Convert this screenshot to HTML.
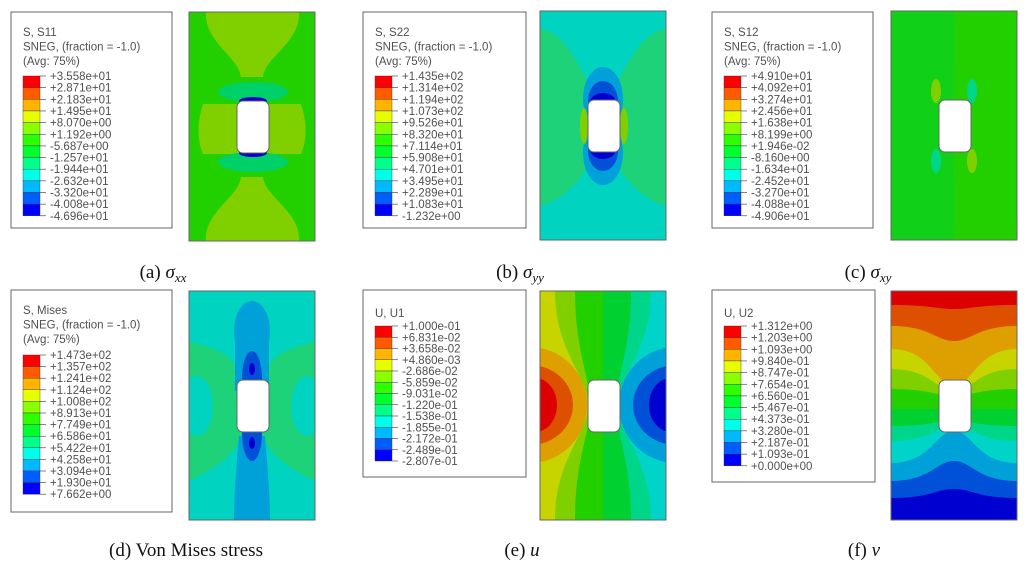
<!DOCTYPE html>
<html><head><meta charset="utf-8"><style>
html,body{margin:0;padding:0;background:#fff;}
svg{display:block;}
.lg{font-family:"Liberation Sans",sans-serif;font-size:11.5px;fill:#505050;}
.cap{font-family:"Liberation Serif",serif;font-size:19px;fill:#111;}
</style></head><body>
<svg id="s" width="1033" height="580" xmlns="http://www.w3.org/2000/svg"></svg>
<script>
const S=document.getElementById('s');let h='';
const LC=['#ff0000','#ff5a00','#ffb400','#e6ff00','#8bff00','#2eff00','#00ff2e','#00ff8b','#00ffe8','#00b9ff','#005dff','#0000ff'];
const R='#dd0000',RO='#dd5000',O='#dda000',Y='#c8d400',YG='#80d000',G='#22d000',G2='#00d030',GC='#1ed27a',C='#00d4c0',LB='#00a0d8',B='#0050d8',DB='#0000d0';
function legend(x,y,w,hh,titles,labels,top,step,ty){
 h+=`<rect x="${x}" y="${y}" width="${w}" height="${hh}" fill="#fff" stroke="#666" stroke-width="1"/>`;
 titles.forEach((t,i)=>h+=`<text class="lg" x="${x+12}" y="${y+(ty||24)+i*14.5}">${t}</text>`);
 for(let i=0;i<12;i++)h+=`<rect x="${x+12}" y="${top+i*step}" width="17" height="${step}" fill="${LC[i]}" stroke="#333" stroke-width="0.4"/>`;
 labels.forEach((l,i)=>{let yy=top+i*step;h+=`<line x1="${x+29}" x2="${x+35}" y1="${yy}" y2="${yy}" stroke="#333" stroke-width="0.6"/><text class="lg" x="${x+39}" y="${yy+4}">${l}</text>`;});
}
function plot(x,y,inner){
 h+=`<g transform="translate(${x},${y})"><clipPath id="c${x}${y}"><rect width="126" height="229"/></clipPath><g clip-path="url(#c${x}${y})">${inner}</g><rect x="48" y="89" width="32" height="52" rx="6" fill="#fff" stroke="#666" stroke-width="1"/><rect width="126" height="229" fill="none" stroke="#666" stroke-width="1"/></g>`;
}
function band(e,c,col){return `<path d="M0 ${e} C40 ${e},45 ${c},63 ${c} C81 ${c},86 ${e},126 ${e} L126 230 L0 230Z" fill="${col}"/>`;}
function vl(a,b,col){return `<path d="M0 0 L${a} 0 C${a} 60,${b} 85,${b} 114 C${b} 143,${a} 168,${a} 229 L0 229Z" fill="${col}"/>`;}
function vr(a,b,col){a=126-a;b=126-b;return `<path d="M126 0 L${a} 0 C${a} 60,${b} 85,${b} 114 C${b} 143,${a} 168,${a} 229 L126 229Z" fill="${col}"/>`;}
const A=['S, S11','SNEG, (fraction = -1.0)','(Avg: 75%)'];
legend(11,12,161,216,A,['+3.558e+01','+2.871e+01','+2.183e+01','+1.495e+01','+8.070e+00','+1.192e+00','-5.687e+00','-1.257e+01','-1.944e+01','-2.632e+01','-3.320e+01','-4.008e+01','-4.696e+01'],76,11.65);
legend(363,12,163,216,['S, S22','SNEG, (fraction = -1.0)','(Avg: 75%)'],['+1.435e+02','+1.314e+02','+1.194e+02','+1.073e+02','+9.526e+01','+8.320e+01','+7.114e+01','+5.908e+01','+4.701e+01','+3.495e+01','+2.289e+01','+1.083e+01','-1.232e+00'],76,11.65);
legend(712,12,161,216,['S, S12','SNEG, (fraction = -1.0)','(Avg: 75%)'],['+4.910e+01','+4.092e+01','+3.274e+01','+2.456e+01','+1.638e+01','+8.199e+00','+1.946e-02','-8.160e+00','-1.634e+01','-2.452e+01','-3.270e+01','-4.088e+01','-4.906e+01'],76,11.65);
legend(11,290,161,222,['S, Mises','SNEG, (fraction = -1.0)','(Avg: 75%)'],['+1.473e+02','+1.357e+02','+1.241e+02','+1.124e+02','+1.008e+02','+8.913e+01','+7.749e+01','+6.586e+01','+5.422e+01','+4.258e+01','+3.094e+01','+1.930e+01','+7.662e+00'],355,11.6);
legend(363,290,163,187,['U, U1'],['+1.000e-01','+6.831e-02','+3.658e-02','+4.860e-03','-2.686e-02','-5.859e-02','-9.031e-02','-1.220e-01','-1.538e-01','-1.855e-01','-2.172e-01','-2.489e-01','-2.807e-01'],326,11.25,27);
legend(712,290,163,192,['U, U2'],['+1.312e+00','+1.203e+00','+1.093e+00','+9.840e-01','+8.747e-01','+7.654e-01','+6.560e-01','+5.467e-01','+4.373e-01','+3.280e-01','+2.187e-01','+1.093e-01','+0.000e+00'],326,11.65,27);
// a
plot(189,12,`<rect width="126" height="229" fill="${G}"/>
<path d="M17 0 C15 30,50 45,52 65 L74 65 C76 45,112 30,110 0Z" fill="${YG}"/>
<path d="M17 229 C15 200,50 185,52 165 L74 165 C76 185,112 200,110 229Z" fill="${YG}"/>
<path d="M14 92 L112 92 C118 110,118 128,112 142 L14 142 C8 128,8 110,14 92Z" fill="${YG}"/>
<ellipse cx="64" cy="80" rx="35" ry="10" fill="#00d068"/><ellipse cx="64" cy="150" rx="35" ry="10" fill="#00d068"/>
<ellipse cx="64" cy="89" rx="14" ry="4" fill="${DB}"/><ellipse cx="64" cy="141" rx="14" ry="4" fill="${DB}"/>`);
// b
plot(540,11,`<rect width="126" height="229" fill="${GC}"/>
<path d="M0 0 H126 V18 C100 20,85 60,72 80 L54 80 C40 60,26 20,0 18Z" fill="${C}"/>
<path d="M0 229 H126 V195 C105 190,85 170,75 150 L51 150 C41 170,21 190,0 195Z" fill="${C}"/>
<path d="M40 229 C40 200,50 175,55 150 L71 150 C76 175,86 200,86 229Z" fill="${C}"/>
<ellipse cx="63" cy="88" rx="20" ry="32" fill="${LB}"/><ellipse cx="63" cy="142" rx="20" ry="32" fill="${LB}"/>
<ellipse cx="63" cy="90" rx="15" ry="20" fill="${B}"/><ellipse cx="63" cy="140" rx="15" ry="20" fill="${B}"/>
<ellipse cx="63" cy="92" rx="13" ry="10" fill="${DB}"/><ellipse cx="63" cy="138" rx="13" ry="10" fill="${DB}"/>
<ellipse cx="44" cy="115" rx="4" ry="18" fill="${YG}"/><ellipse cx="84" cy="115" rx="4" ry="18" fill="${YG}"/>`);
// c
plot(891,11,`<rect width="126" height="229" fill="${G}"/><rect width="63" height="229" fill="#10d018"/>
<ellipse cx="45" cy="80" rx="5" ry="12" fill="${YG}"/><ellipse cx="81" cy="80" rx="5" ry="12" fill="#00d68a"/>
<ellipse cx="45" cy="150" rx="5" ry="12" fill="#00d68a"/><ellipse cx="81" cy="150" rx="5" ry="12" fill="${YG}"/>`);
// d
plot(189,291,`<rect width="126" height="229" fill="${C}"/>
<path d="M0 50 C30 60,45 60,55 95 L55 140 C45 165,30 175,0 190Z" fill="${GC}"/>
<path d="M126 50 C96 60,81 60,71 95 L71 140 C81 165,96 175,126 190Z" fill="${GC}"/>
<ellipse cx="8" cy="115" rx="16" ry="30" fill="${C}"/><ellipse cx="118" cy="115" rx="16" ry="30" fill="${C}"/>
<path d="M45 229 C45 200,48 170,50 145 L76 145 C78 170,81 200,81 229Z" fill="${LB}"/>
<ellipse cx="63" cy="40" rx="18" ry="30" fill="${LB}"/><rect x="46" y="40" width="34" height="60" fill="${LB}"/>
<ellipse cx="63" cy="88" rx="10" ry="28" fill="${B}"/><ellipse cx="63" cy="142" rx="10" ry="28" fill="${B}"/>
<ellipse cx="63" cy="78" rx="3" ry="6" fill="${DB}"/><ellipse cx="63" cy="152" rx="3" ry="6" fill="${DB}"/>`);
// e
plot(540,291,`<rect width="63" height="229" fill="${G}"/><rect x="63" width="63" height="229" fill="${G2}"/>
${vl(35,50,YG)}${vl(15,48,Y)}
<ellipse cx="-10" cy="114" rx="57" ry="58" fill="${O}"/><ellipse cx="-10" cy="114" rx="43" ry="40" fill="${RO}"/><ellipse cx="-5" cy="114" rx="22" ry="27" fill="${R}"/>
${vr(35,50,'#00d68a')}${vr(15,48,'#00d4c8')}
<ellipse cx="136" cy="114" rx="57" ry="58" fill="${LB}"/><ellipse cx="136" cy="114" rx="43" ry="40" fill="${B}"/><ellipse cx="131" cy="114" rx="22" ry="27" fill="${DB}"/>`);
// f
plot(891,291,`<rect width="126" height="229" fill="${R}"/>`+band(14,18,RO)+band(35,50,O)+band(58,95,Y)+band(78,100,YG)+band(98,105,G)+band(118,118,G2)+band(135,130,'#00d68a')+band(150,135,'#00d4c8')+band(172,140,LB)+band(190,170,B)+band(207,198,DB));
h+=`<text class="cap" x="163" y="278" text-anchor="middle">(a) <tspan font-style="italic">σ</tspan><tspan font-style="italic" font-size="13" dy="4">xx</tspan></text>`;
h+=`<text class="cap" x="520" y="278" text-anchor="middle">(b) <tspan font-style="italic">σ</tspan><tspan font-style="italic" font-size="13" dy="4">yy</tspan></text>`;
h+=`<text class="cap" x="868" y="278" text-anchor="middle">(c) <tspan font-style="italic">σ</tspan><tspan font-style="italic" font-size="13" dy="4">xy</tspan></text>`;
h+=`<text class="cap" x="186" y="556" text-anchor="middle">(d) Von Mises stress</text>`;
h+=`<text class="cap" x="522" y="556" text-anchor="middle">(e) <tspan font-style="italic">u</tspan></text>`;
h+=`<text class="cap" x="864" y="556" text-anchor="middle">(f) <tspan font-style="italic">v</tspan></text>`;
S.innerHTML=h;
</script>
</body></html>
